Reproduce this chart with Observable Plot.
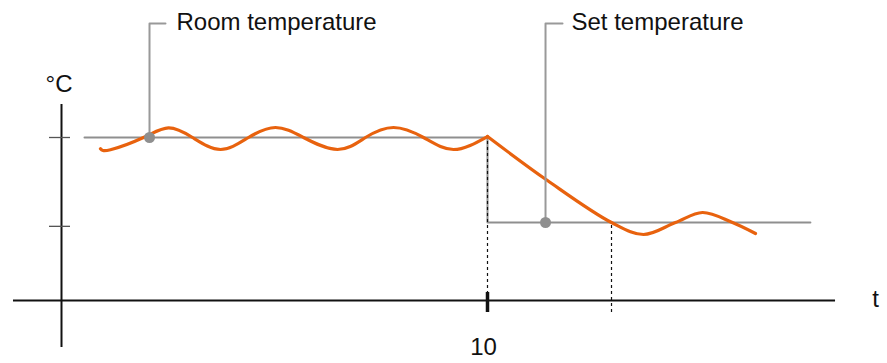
<!DOCTYPE html>
<html>
<head>
<meta charset="utf-8">
<script src="https://cdn.jsdelivr.net/npm/d3@7"></script>
<script src="https://cdn.jsdelivr.net/npm/@observablehq/plot@0.6"></script>
<style>
  html, body { margin: 0; padding: 0; background: #fff; }
  #chart svg { display: block; }
</style>
</head>
<body>
<div id="chart"></div>
<script>
// Room temperature before the change (t, °C in chart units)
const beforeT    = [0.915, 1.150, 1.925, 2.512, 3.075, 3.732, 4.390, 5.023, 5.681, 6.479, 7.136, 7.793, 8.498, 9.202, 10.0];
const beforeTemp = [18.62, 18.50, 20.0, 21.17, 20.0, 18.53, 20.0, 21.23, 20.0, 18.53, 20.0, 21.23, 20.0, 18.53, 20.12];
// Room temperature after the change
const afterT    = [10.0, 11.408, 12.911, 13.662, 14.413, 15.047, 15.751, 16.291];
const afterTemp = [20.12, 14.72, 9.57, 8.10, 9.57, 10.80, 9.57, 8.22];
// Set temperature (step)
const setT    = [0.54, 10.0, 10.0, 17.58];
const setTemp = [20.0, 20.0, 9.57, 9.57];
// Tick values
const yTicks = [20.0, 9.1];
const xTicks = [10];
const xTickLabels = ["10"];
// Annotations
const labels = ["Room temperature", "Set temperature"];
const labelDotT = [2.066, 11.362];
const labelDotTemp = [20.0, 9.57];
const labelTopTemp = 34.0;
const labelElbowT = [2.441, 11.761];
const labelTextT = [2.70, 11.972];
const settleT = 12.911;

const orange = "#e8620e";
const gray = "#8f8f8f";
const ink = "#111";
const font = "Liberation Sans, Arial, sans-serif";

const before = beforeT.map((t, i) => ({t, v: beforeTemp[i]}));
const after = afterT.map((t, i) => ({t, v: afterTemp[i]}));
const setLine = setT.map((t, i) => ({t, v: setTemp[i]}));
const leaders = labels.flatMap((name, i) => [
  {name, t: labelDotT[i], v: labelDotTemp[i]},
  {name, t: labelDotT[i], v: labelTopTemp},
  {name, t: labelElbowT[i], v: labelTopTemp}
]);
const labelRows = labels.map((name, i) => ({name, t: labelTextT[i], v: labelTopTemp + 0.17}));
const dots = labels.map((name, i) => ({t: labelDotT[i], v: labelDotTemp[i]}));

const chart = Plot.plot({
  width: 887,
  height: 363,
  marginLeft: 0, marginRight: 0, marginTop: 0, marginBottom: 0,
  x: {domain: [-1.4319, 19.3897], axis: null},
  y: {domain: [-7.730, 36.810], axis: null},
  style: {background: "#fff", fontFamily: font, overflow: "visible"},
  marks: [
    // axes
    Plot.ruleY([0], {x1: -1.127, x2: 18.17, stroke: ink, strokeWidth: 2}),
    Plot.ruleX([0], {y1: -5.77, y2: 24.05, stroke: ink, strokeWidth: 2}),
    Plot.ruleY(yTicks, {x1: -0.282, x2: 0.211, stroke: "#555", strokeWidth: 1.3}),
    // set temperature
    Plot.line(setLine, {x: "t", y: "v", stroke: gray, strokeWidth: 2}),
    // dashed guides
    Plot.ruleX(xTicks, {y1: 0, y2: setTemp[0], stroke: ink, strokeWidth: 1.2, strokeDasharray: "3,3"}),
    Plot.ruleX([settleT], {y1: -1.47, y2: setTemp[2], stroke: ink, strokeWidth: 1.2, strokeDasharray: "3,3"}),
    // x tick
    Plot.ruleX(xTicks, {y1: 0.98, y2: -1.47, stroke: ink, strokeWidth: 3.5}),
    // room temperature
    Plot.line(before, {x: "t", y: "v", stroke: orange, strokeWidth: 3.2, curve: "natural"}),
    Plot.line(after, {x: "t", y: "v", stroke: orange, strokeWidth: 3.2, curve: "catmull-rom"}),
    // annotation leaders
    Plot.line(leaders, {x: "t", y: "v", z: "name", stroke: "#999", strokeWidth: 2}),
    Plot.dot(dots, {x: "t", y: "v", r: 5.5, fill: gray, stroke: null}),
    Plot.text(labelRows, {x: "t", y: "v", text: "name", textAnchor: "start", fontSize: 24, fill: ink, fontFamily: font}),
    // axis labels
    Plot.text(["°C"], {x: -0.0587, y: 26.47, text: d => d, fontSize: 24, fill: ink, fontFamily: font}),
    Plot.text(["t"], {x: 19.108, y: 0.09, text: d => d, fontSize: 24, fill: ink, fontFamily: font}),
    Plot.text(xTicks, {x: d => d - 0.094, y: -5.80, text: (d, i) => xTickLabels[i], fontSize: 24, fill: ink, fontFamily: font})
  ]
});
document.getElementById("chart").appendChild(chart);
</script>
</body>
</html>
